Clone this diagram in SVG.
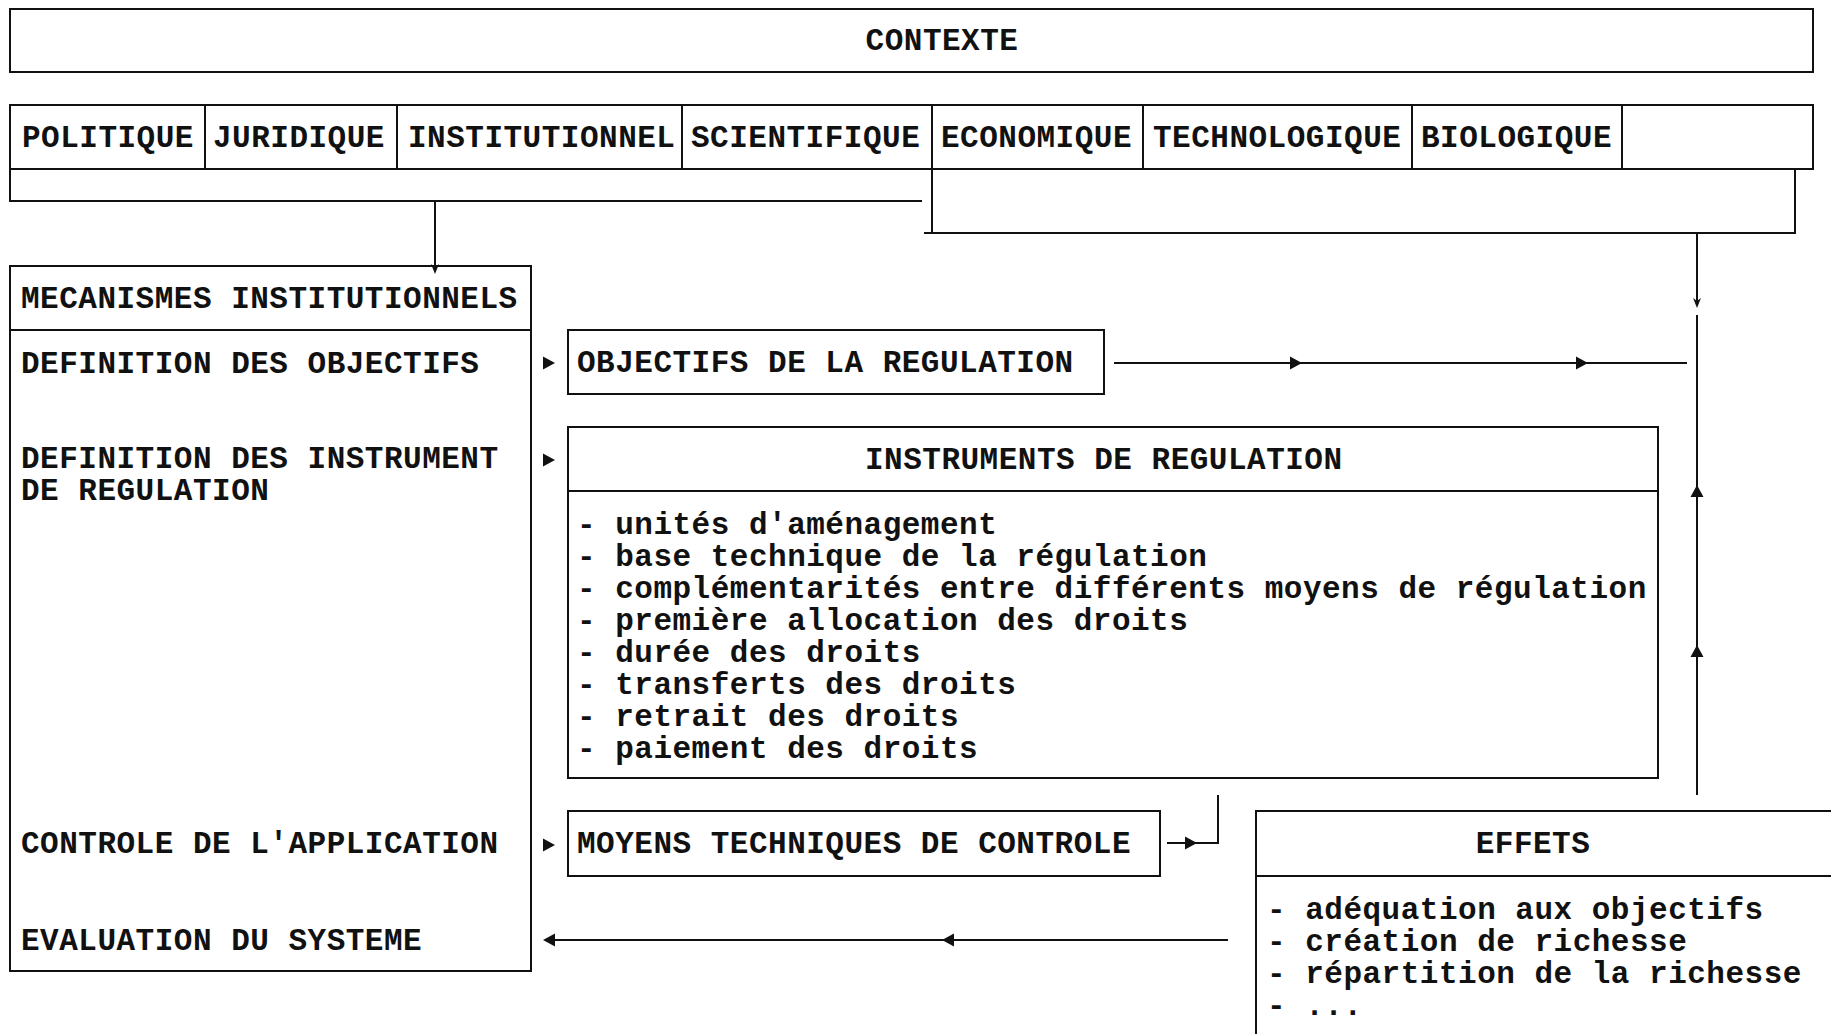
<svg xmlns="http://www.w3.org/2000/svg" xmlns:xlink="http://www.w3.org/1999/xlink" width="1831" height="1034" viewBox="0 0 1831 1034">
<style>
  .box{fill:none;stroke:#111;stroke-width:2}
  .ln{fill:none;stroke:#111;stroke-width:2}
  .t{font-family:"Liberation Mono","Courier New",monospace;font-weight:bold;font-size:31px;letter-spacing:0.5px;fill:#111}
  .c{text-anchor:middle}
  .ah{fill:#111;stroke:none}
</style>
<defs>
  <path id="triR" d="M0,-6.5 L12,0 L0,6.5 Z"/>
  <path id="triL" d="M0,0 L12,-6.5 L12,6.5 Z"/>
  <path id="triU" d="M0,0 L-6.5,12 L6.5,12 Z"/>
  <path id="thinD" d="M-4,-10 L0,0 L4,-10 L0,-7 Z"/>
</defs>
<rect width="1831" height="1034" fill="#fff"/>

<g id="contexte">
  <rect class="box" x="10" y="9" width="1803" height="63"/>
  <text class="t c" x="942" y="50">CONTEXTE</text>
</g>

<g id="categories">
  <g id="cat-politique"><rect class="box" x="10" y="105" width="195" height="64"/><text class="t" x="22" y="147">POLITIQUE</text></g>
  <g id="cat-juridique"><rect class="box" x="205" y="105" width="192" height="64"/><text class="t" x="213" y="147">JURIDIQUE</text></g>
  <g id="cat-institutionnel"><rect class="box" x="397" y="105" width="285" height="64"/><text class="t" x="408" y="147">INSTITUTIONNEL</text></g>
  <g id="cat-scientifique"><rect class="box" x="682" y="105" width="250" height="64"/><text class="t" x="691" y="147">SCIENTIFIQUE</text></g>
  <g id="cat-economique"><rect class="box" x="932" y="105" width="211" height="64"/><text class="t" x="941" y="147">ECONOMIQUE</text></g>
  <g id="cat-technologique"><rect class="box" x="1143" y="105" width="269" height="64"/><text class="t" x="1153" y="147">TECHNOLOGIQUE</text></g>
  <g id="cat-biologique"><rect class="box" x="1412" y="105" width="210" height="64"/><text class="t" x="1421" y="147">BIOLOGIQUE</text></g>
  <g id="cat-empty"><rect class="box" x="1622" y="105" width="191" height="64"/></g>
</g>

<g id="group-left">
  <path class="ln" d="M10,169 V201 H922"/>
</g>
<g id="group-right">
  <path class="ln" d="M932,169 V233 M924,233 H1795 V169"/>
</g>

<g id="mecanismes">
  <rect class="box" x="10" y="266" width="521" height="705"/>
  <line class="ln" x1="10" y1="330" x2="531" y2="330"/>
  <text class="t" x="21" y="308">MECANISMES INSTITUTIONNELS</text>
  <text class="t" x="21" y="373">DEFINITION DES OBJECTIFS</text>
  <text class="t" x="21" y="468">DEFINITION DES INSTRUMENT</text>
  <text class="t" x="21" y="500">DE REGULATION</text>
  <text class="t" x="21" y="853">CONTROLE DE L'APPLICATION</text>
  <text class="t" x="21" y="950">EVALUATION DU SYSTEME</text>
</g>

<g id="objectifs">
  <rect class="box" x="568" y="330" width="536" height="64"/>
  <text class="t" x="577" y="372">OBJECTIFS DE LA REGULATION</text>
</g>

<g id="instruments">
  <rect class="box" x="568" y="427" width="1090" height="351"/>
  <line class="ln" x1="568" y1="491" x2="1658" y2="491"/>
  <text class="t" x="865" y="469">INSTRUMENTS DE REGULATION</text>
  <text class="t" x="577" y="534">- unités d'aménagement</text>
  <text class="t" x="577" y="566">- base technique de la régulation</text>
  <text class="t" x="577" y="598">- complémentarités entre différents moyens de régulation</text>
  <text class="t" x="577" y="630">- première allocation des droits</text>
  <text class="t" x="577" y="662">- durée des droits</text>
  <text class="t" x="577" y="694">- transferts des droits</text>
  <text class="t" x="577" y="726">- retrait des droits</text>
  <text class="t" x="577" y="758">- paiement des droits</text>
</g>

<g id="moyens">
  <rect class="box" x="568" y="811" width="592" height="65"/>
  <text class="t" x="577" y="853">MOYENS TECHNIQUES DE CONTROLE</text>
</g>

<g id="effets">
  <path class="ln" d="M1256,1034 V811 H1831 M1256,876 H1831"/>
  <text class="t c" x="1533" y="853">EFFETS</text>
  <text class="t" x="1267" y="919">- adéquation aux objectifs</text>
  <text class="t" x="1267" y="951">- création de richesse</text>
  <text class="t" x="1267" y="983">- répartition de la richesse</text>
  <text class="t" x="1267" y="1015">- ...</text>
</g>

<g id="connectors">
  <path class="ln" d="M435,201 V268"/>
  <use href="#thinD" class="ah" x="435" y="274"/>
  <path class="ln" d="M1697,233 V302"/>
  <use href="#thinD" class="ah" x="1697" y="308"/>
  <path class="ln" d="M1697,315 V795"/>
  <use href="#triU" class="ah" x="1697" y="485"/>
  <use href="#triU" class="ah" x="1697" y="645"/>
  <path class="ln" d="M1114,363 H1687"/>
  <use href="#triR" class="ah" x="1290" y="363"/>
  <use href="#triR" class="ah" x="1576" y="363"/>
  <use href="#triR" class="ah" x="543" y="363"/>
  <use href="#triR" class="ah" x="543" y="460"/>
  <use href="#triR" class="ah" x="543" y="845"/>
  <path class="ln" d="M1167,843 H1218 V795"/>
  <use href="#triR" class="ah" x="1185" y="843"/>
  <path class="ln" d="M1228,940 H550"/>
  <use href="#triL" class="ah" x="543" y="940"/>
  <use href="#triL" class="ah" x="942" y="940"/>
</g>
</svg>
